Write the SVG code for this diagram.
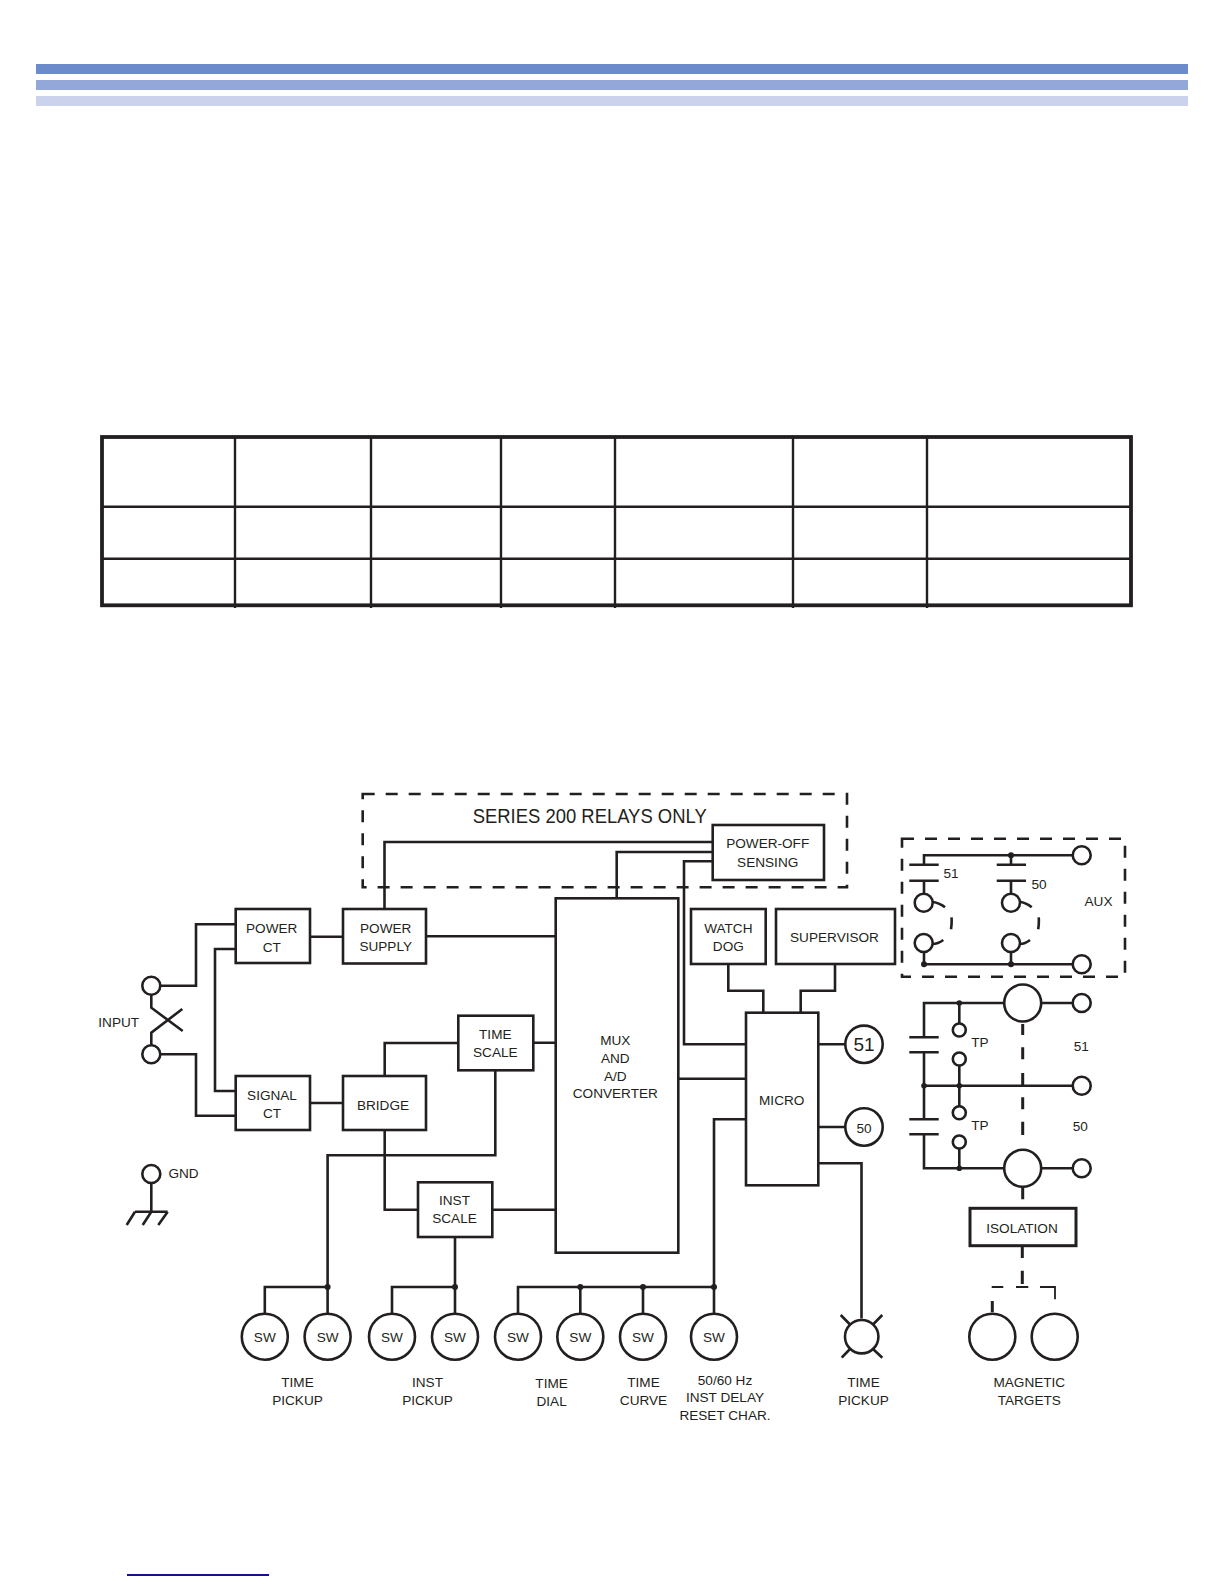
<svg xmlns="http://www.w3.org/2000/svg" width="1224" height="1584" viewBox="0 0 1224 1584">
<style>
text{font-family:"Liberation Sans",Arial,sans-serif;font-size:13.6px;fill:#231f20;text-anchor:middle}
.b,.c,.w,.d,.dt{fill:none;stroke:#231f20;stroke-width:2.6;stroke-linejoin:miter}
.b,.c{fill:#fff}
.d{stroke-dasharray:12 11;stroke-width:2.6}
.dt{stroke-width:3}
.dot{fill:#231f20;stroke:none}
</style>
<rect width="1224" height="1584" fill="#fff"/>
<g id="header-bars">
<rect x="36" y="64" width="1152" height="10" fill="#6b8bcb"/>
<rect x="36" y="80" width="1152" height="10" fill="#93a8d8"/>
<rect x="36" y="96" width="1152" height="10" fill="#cbd2ec"/>
</g>
<g id="table" fill="none" stroke="#231f20">
<path stroke-width="2.4" d="M102 506.7H1131M102 558.7H1131M235 437V608M371 437V608M501 437V608M615 437V608M793 437V608M927 437V608"/>
<rect x="102" y="437" width="1029" height="168.3" stroke-width="3.8"/>
</g>
<path id="footer-rule" d="M127 1575H269" stroke="#1a0f8a" stroke-width="1.8" fill="none"/>

<g id="connectors">
<path class="w" d="M160 985.7H196V924.3H236M160 1054.3H196V1115.7H236M236 949H215V1091H236"/>
<path class="w" d="M151.3 995V1007.7L182.7 1031M151.3 1045V1032.7L182.3 1009"/>
<path class="w" d="M310 936.7H343M310 1103H343M426 936.3H556"/>
<path class="w" d="M384.5 909V842H713M713 852H616.7V898.3M713 861.3H684V1044.3H746"/>
<path class="w" d="M728.3 964V990.7H763.3V1012.7M835 964V990.7H800.7V1012.7"/>
<path class="w" d="M678.3 1078.7H746M746 1119.3H714V1287M818.3 1044.3H845M818.3 1127H845M818.3 1163.3H861.5V1318.5"/>
<path class="w" d="M384.7 1076V1043H458.3M533.3 1042.7H556M492.3 1209.7H556M384.7 1130V1209.7H418"/>
<path class="w" d="M495.3 1070.3V1155.3H327.6V1313.5M264.8 1313.5V1287H327.6"/>
<path class="w" d="M455 1237V1313.5M392 1313.5V1287H455"/>
<path class="w" d="M518 1313.5V1287H714V1313.5M580.3 1287V1313.5M643 1287V1313.5"/>
<circle class="dot" cx="327.6" cy="1287" r="3"/><circle class="dot" cx="455" cy="1287" r="3"/><circle class="dot" cx="580.3" cy="1287" r="3"/><circle class="dot" cx="643" cy="1287" r="3"/><circle class="dot" cx="714" cy="1287" r="3"/>
<path class="dt" d="M1022.7 1024V1035M1022.7 1047.3V1059.3M1022.7 1073V1085.7M1022.7 1097.3V1109.3M1022.7 1121.7V1135M1022.7 1186.7V1199.3M1022.3 1246.7V1258M1022.3 1270.7V1284M992.3 1301V1312.3"/>
<path class="w" style="stroke-width:1.8" d="M991.7 1287H1003.3M1016 1287H1028.3M1040 1287H1055V1299.3"/>
</g>

<g id="series-200-box"><rect class="d" x="362.7" y="794" width="484.3" height="93.3"/><text x="589.7" y="822.7" style="font-size:20px" textLength="234" lengthAdjust="spacingAndGlyphs">SERIES 200 RELAYS ONLY</text></g>
<g id="aux-box"><rect class="d" x="902" y="838.7" width="223" height="138"/><text x="1098.5" y="905.7">AUX</text></g>
<g id="power-off"><rect class="b" x="712.7" y="825" width="111.3" height="55"/><text x="767.7" y="848">POWER-OFF</text><text x="767.7" y="866.7">SENSING</text></g>
<g id="power-ct"><rect class="b" x="235.7" y="909" width="74.3" height="54"/><text x="271.7" y="933">POWER</text><text x="271.7" y="951.7">CT</text></g>
<g id="power-supply"><rect class="b" x="343" y="909" width="83" height="54.5"/><text x="385.7" y="932.7">POWER</text><text x="385.7" y="950.7">SUPPLY</text></g>
<g id="signal-ct"><rect class="b" x="235.7" y="1076" width="74.3" height="54"/><text x="272" y="1100">SIGNAL</text><text x="272" y="1117.7">CT</text></g>
<g id="bridge"><rect class="b" x="343" y="1076" width="83" height="54"/><text x="383" y="1110">BRIDGE</text></g>
<g id="time-scale"><rect class="b" x="458.3" y="1015.7" width="75" height="54.6"/><text x="495.3" y="1039.3">TIME</text><text x="495.3" y="1057.3">SCALE</text></g>
<g id="inst-scale"><rect class="b" x="418" y="1182.3" width="74.3" height="54.7"/><text x="454.5" y="1205">INST</text><text x="454.5" y="1222.7">SCALE</text></g>
<g id="mux"><rect class="b" x="555.7" y="898.3" width="122.6" height="354.4"/><text x="615.3" y="1045">MUX</text><text x="615.3" y="1062.7">AND</text><text x="615.3" y="1080.7">A/D</text><text x="615.3" y="1098.3">CONVERTER</text></g>
<g id="watch-dog"><rect class="b" x="691" y="909" width="74.7" height="55"/><text x="728.3" y="932.7">WATCH</text><text x="728.3" y="950.7">DOG</text></g>
<g id="supervisor"><rect class="b" x="776" y="909" width="119" height="55"/><text x="834.5" y="942">SUPERVISOR</text></g>
<g id="micro"><rect class="b" x="746" y="1012.7" width="72.3" height="172.6"/><text x="781.7" y="1104.7">MICRO</text></g>
<g id="led-51"><circle class="c" cx="864" cy="1044.3" r="18.7"/><text x="864" y="1051.3" style="font-size:19px">51</text></g>
<g id="led-50"><circle class="c" cx="864" cy="1127" r="18.7"/><text x="864" y="1133">50</text></g>

<g id="input"><circle class="c" cx="151.3" cy="985.7" r="9"/><circle class="c" cx="151.3" cy="1054.3" r="9"/><text x="118.7" y="1027.3">INPUT</text></g>
<g id="gnd"><circle class="c" cx="151.3" cy="1174" r="9"/><path class="w" d="M151.3 1183V1211.7M135 1211.7H167.7M135 1211.7L126.7 1225M151.3 1211.7L142.7 1225M167.7 1211.7L158.3 1225"/><text x="183.5" y="1177.7">GND</text></g>

<g id="sw-1"><circle class="c" cx="264.8" cy="1336.7" r="23"/><text x="264.8" y="1341.5">SW</text></g>
<g id="sw-2"><circle class="c" cx="327.6" cy="1336.7" r="23"/><text x="327.6" y="1341.5">SW</text></g>
<g id="sw-3"><circle class="c" cx="392" cy="1336.7" r="23"/><text x="392" y="1342">SW</text></g>
<g id="sw-4"><circle class="c" cx="455" cy="1336.7" r="23"/><text x="455" y="1342">SW</text></g>
<g id="sw-5"><circle class="c" cx="518" cy="1336.7" r="23"/><text x="518" y="1342">SW</text></g>
<g id="sw-6"><circle class="c" cx="580.3" cy="1336.7" r="23"/><text x="580.3" y="1342">SW</text></g>
<g id="sw-7"><circle class="c" cx="643" cy="1336.7" r="23"/><text x="643" y="1341.5">SW</text></g>
<g id="sw-8"><circle class="c" cx="714" cy="1336.7" r="23"/><text x="714" y="1341.5">SW</text></g>
<g id="labels">
<text x="297.5" y="1387">TIME</text><text x="297.5" y="1405">PICKUP</text>
<text x="427.5" y="1387">INST</text><text x="427.5" y="1405">PICKUP</text>
<text x="551.6" y="1388">TIME</text><text x="551.6" y="1406">DIAL</text>
<text x="643.5" y="1387">TIME</text><text x="643.5" y="1405">CURVE</text>
<text x="725" y="1385">50/60 Hz</text><text x="725" y="1402">INST DELAY</text><text x="725" y="1420">RESET CHAR.</text>
</g>
<g id="time-pickup-lamp"><circle class="c" cx="861.7" cy="1336.7" r="16.7"/><path class="w" d="M840.7 1315L850 1324.5M882.3 1315L873 1324.5M841.7 1357.7L850 1349M882.3 1357.7L873 1349"/><text x="863.5" y="1387.3">TIME</text><text x="863.5" y="1405">PICKUP</text></g>
<g id="isolation"><rect class="b" style="stroke-width:3" x="970" y="1208.3" width="106" height="37.4"/><text x="1022" y="1232.7">ISOLATION</text></g>
<g id="magnetic-targets"><circle class="c" cx="992.3" cy="1336.7" r="23"/><circle class="c" cx="1054.7" cy="1336.7" r="23"/><text x="1029.3" y="1387.3">MAGNETIC</text><text x="1029.3" y="1405">TARGETS</text></g>

<g id="aux-contacts">
<path class="w" d="M924 880.7V893.7M1011 880.7V893.7M924 864.7V855.3H1072.7M1011 855.3V864.7M909.3 864.7H938.7M909.3 880.7H938.7M996.7 864.7H1026M996.7 880.7H1026"/>
<path class="w" d="M924 952V964.3H1072.7M1011 952V964.3"/>
<path class="w" d="M932.3 901.7Q940 903 945 907.3M932.3 944Q938 944 943.3 940M951.5 917.3Q952 923 951 929.3M1020 901.7Q1027 903 1031.7 907.3M1020 944Q1025 944 1030 940M1038.7 917.3Q1039.2 923 1038.2 929.3"/>
<circle class="c" cx="923.7" cy="902.7" r="9"/><circle class="c" cx="1011" cy="902.7" r="9"/><circle class="c" cx="923.7" cy="943" r="9"/><circle class="c" cx="1011" cy="943" r="9"/>
<circle class="dot" cx="1011" cy="855.3" r="3"/><circle class="dot" cx="924" cy="964.3" r="3"/><circle class="dot" cx="1011" cy="964.3" r="3"/>
<circle class="c" cx="1081.7" cy="855.3" r="9"/><circle class="c" cx="1081.7" cy="964.3" r="9"/>
<text x="951" y="877.7">51</text><text x="1039" y="888.7">50</text>
</g>
<g id="trip-circuit">
<path class="w" d="M1004 1003H924V1037.3M909.3 1037.3H938.7M909.3 1052.3H938.7M924 1052.3V1119.3M909.3 1119.3H938.7M909.3 1134.3H938.7M924 1134.3V1168.3H1004"/>
<path class="w" d="M924 1085.7H1072.7M959.3 1003V1023.5M959.3 1065.5V1106M959.3 1148.5V1168.3M1041 1003H1072.7M1041 1168.3H1072.7"/>
<circle class="c" cx="959.3" cy="1030" r="6.5"/><circle class="c" cx="959.3" cy="1059" r="6.5"/><circle class="c" cx="959.3" cy="1112.7" r="6.5"/><circle class="c" cx="959.3" cy="1142" r="6.5"/>
<circle class="c" cx="1022.7" cy="1003" r="18.5"/><circle class="c" cx="1022.7" cy="1168.3" r="18.5"/>
<circle class="c" cx="1081.7" cy="1003" r="9"/><circle class="c" cx="1081.7" cy="1085.7" r="9"/><circle class="c" cx="1081.7" cy="1168.3" r="9"/>
<circle class="dot" cx="959.3" cy="1003" r="2.8"/><circle class="dot" cx="924" cy="1085.7" r="2.8"/><circle class="dot" cx="959.3" cy="1085.7" r="2.8"/><circle class="dot" cx="959.3" cy="1168.3" r="2.8"/>
<text x="980" y="1047.3">TP</text><text x="980" y="1130">TP</text><text x="1081.3" y="1050.7">51</text><text x="1080.3" y="1130.7">50</text>
</g>
</svg>
